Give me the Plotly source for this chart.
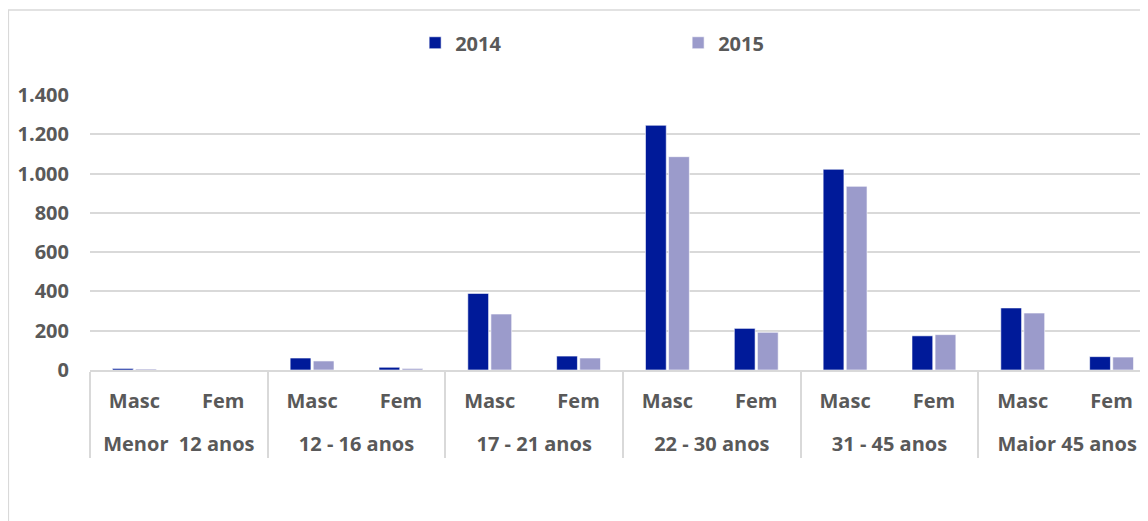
import plotly.graph_objects as go

# faixas etarias and sexo (multicategory x axis)
faixas = ["Menor  12 anos", "12 - 16 anos", "17 - 21 anos",
          "22 - 30 anos", "31 - 45 anos", "Maior 45 anos"]
sexos = ["Masc", "Fem"]

# values, order: Masc, Fem per faixa
vals_2014 = [8, 0, 61, 14, 390, 71, 1246, 212, 1022, 174, 316, 68]
vals_2015 = [5, 0, 46, 8, 285, 61, 1086, 192, 935, 180, 290, 66]

# leading <br> just adds vertical room between the two label rows
x_outer = ["<br>" + f for f in faixas for _ in sexos]
x_inner = [s for _ in faixas for s in sexos]

grey = "#595959"
grid = "#d9d9d9"
font_fam = "Open Sans, Lato, sans-serif"
lab_font = dict(family=font_fam, size=20, color=grey, weight="bold")

fig = go.Figure()
fig.add_trace(go.Bar(x=[x_outer, x_inner], y=vals_2014, name="2014",
                     marker=dict(color="#001a99", line=dict(color="#ffffff", width=0.6))))
fig.add_trace(go.Bar(x=[x_outer, x_inner], y=vals_2015, name="2015",
                     marker=dict(color="#9b9bcb", line=dict(color="#ffffff", width=0.6))))

# page body has an 8px margin, so margins are shifted to compensate
fig.update_layout(
    width=1148, height=521,
    margin=dict(l=82, r=0, t=87, b=159),
    paper_bgcolor="white", plot_bgcolor="white",
    separators=",.",
    barmode="group", bargap=0.48, bargroupgap=0.1,
    font=lab_font,
    legend=dict(orientation="h", x=0.305, xanchor="left", y=1.19, yanchor="middle",
                entrywidth=218, entrywidthmode="pixels", font=lab_font),
    xaxis=dict(type="multicategory", showline=True, linecolor=grid, linewidth=1.5,
               showdividers=True, dividercolor=grid, dividerwidth=1.5,
               ticklabelstandoff=12, tickfont=lab_font),
    yaxis=dict(range=[0, 1400], dtick=200, tickformat=",d",
               showgrid=True, gridcolor=grid, gridwidth=1.5, zeroline=False,
               ticks="outside", ticklen=16, tickcolor="rgba(0,0,0,0)",
               tickfont=lab_font),
    shapes=[dict(type="rect", xref="paper", yref="paper",
                 x0=-0.0766, x1=1.05, y0=-0.7, y1=1.309,
                 line=dict(color=grid, width=1.5), fillcolor="rgba(0,0,0,0)")],
)

fig.write_html("out.html")
